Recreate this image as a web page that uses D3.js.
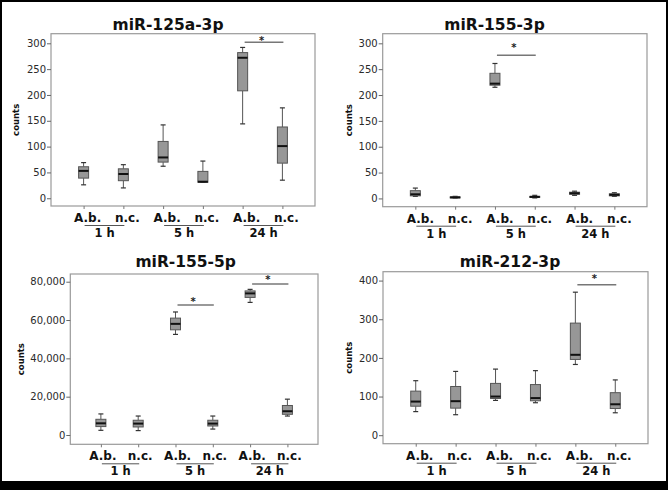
<!DOCTYPE html>
<html><head><meta charset="utf-8">
<script src="https://cdn.jsdelivr.net/npm/d3@7"></script>
<style>html,body{margin:0;padding:0;background:#fff;}svg{display:block;}</style>
</head><body>
<svg id="chart" width="668" height="490"></svg>
<script>
// ---- data ----
const groups = ["1 h", "5 h", "24 h"];
const conditions = ["A.b.", "n.c."];
// five-number summaries [min, q1, median, q3, max] in order 1h A.b., 1h n.c., 5h A.b., 5h n.c., 24h A.b., 24h n.c.
const mir125a3p = [[26,39,53,61,69],[20,34,47,57,65],[62,70,79,110,142],[31,31,32,52,72],[144,208,272,282,292],[35,68,101,138,175]];
const mir1553p  = [[4,5,8,15,20],[1,1.5,2,3,4],[215,219,222,242,261],[1,2,3,4,6],[6,8,10,12,14],[4,5,7,9,11]];
const mir1555p  = [[2450,4400,6100,8200,11000],[2300,4200,5950,7700,9900],[52500,54900,58000,61000,64200],[3100,4700,5950,7700,9900],[69200,71800,73900,75200,76000],[9900,10800,12400,15400,18700]];
const mir2123p  = [[61,75,87,114,141],[53,70,88,126,165],[90,95,100,134,171],[84,89,96,131,167],[183,196,208,290,370],[58,69,80,110,143]];
const ticks300 = [0,50,100,150,200,250,300];
const ticks80k = [0,20000,40000,60000,80000];
const ticks400 = [0,100,200,300,400];
// significance bars: group index, bar height and star height (data units)
const sig125a = [{g:2, y:302, s:310}];
const sig1553 = [{g:1, y:277, s:295}];
const sig1555 = [{g:1, y:67800, s:70800},{g:2, y:78800, s:82300}];
const sig2123 = [{g:2, y:389, s:411}];

// ---- layout ----
const panels = [
  {title:"miR-125a-3p", data:mir125a3p, ticks:ticks300, domain:[-15,318.6], x0:51, x1:315, y0:33.7, y1:206, tx:168, ty:30, cx:19, sig:sig125a, fmt:d3.format("d"), ldx:4},
  {title:"miR-155-3p", data:mir1553p, ticks:ticks300, domain:[-16,318.6], x0:382.7, x1:647, y0:33.7, y1:206.7, tx:494.5, ty:30, cx:351.5, sig:sig1553, fmt:d3.format("d"), ldx:5},
  {title:"miR-155-5p", data:mir1555p, ticks:ticks80k, domain:[-4850,84020], x0:70.3, x1:318, y0:274, y1:444.3, tx:185.7, ty:267, cx:24, sig:sig1555, fmt:d3.format(","), ldx:2},
  {title:"miR-212-3p", data:mir2123p, ticks:ticks400, domain:[-22,423], x0:383, x1:648, y0:271.7, y1:443.7, tx:510, ty:267, cx:351.5, sig:sig2123, fmt:d3.format("d"), ldx:4}
];

const svg = d3.select("#chart");
svg.append("rect").attr("x",0).attr("y",0).attr("width",668).attr("height",490).attr("fill","#fff");

const cats = [];
groups.forEach(g => conditions.forEach(c => cats.push(g + "|" + c)));

panels.forEach(p => {
  const gp = svg.append("g");
  const x = d3.scalePoint().domain(cats).range([p.x0, p.x1]).padding(0.82);
  const y = d3.scaleLinear().domain(p.domain).range([p.y1, p.y0]);

  // frame
  gp.append("rect").attr("x", p.x0).attr("y", p.y0).attr("width", p.x1 - p.x0).attr("height", p.y1 - p.y0)
    .attr("fill", "none").attr("stroke", "#9a9a9a").attr("stroke-width", 1.2);

  // y axis
  const ya = d3.axisLeft(y).tickValues(p.ticks).tickFormat(p.fmt).tickSize(4).tickPadding(1);
  const yg = gp.append("g").attr("transform", `translate(${p.x0},0)`).call(ya);
  yg.select(".domain").remove();
  yg.selectAll(".tick line").attr("stroke", "#666");
  yg.selectAll(".tick text").attr("fill", "#2a2a2a").style("font-family", "DejaVu Sans").style("font-size", "10px");

  // x axis ticks
  const xa = d3.axisBottom(x).tickSize(3).tickFormat("");
  const xg = gp.append("g").attr("transform", `translate(0,${p.y1})`).call(xa);
  xg.select(".domain").remove();
  xg.selectAll(".tick line").attr("stroke", "#777");

  // title
  gp.append("text").attr("x", p.tx).attr("y", p.ty).attr("text-anchor", "middle")
    .style("font-family", "DejaVu Sans").style("font-weight", "bold").style("font-size", "15.5px").attr("fill", "#111")
    .text(p.title);

  // counts label
  const cy = (p.y0 + p.y1) / 2;
  gp.append("text").attr("transform", `translate(${p.cx},${cy}) rotate(-90)`).attr("text-anchor", "middle")
    .style("font-family", "DejaVu Sans").style("font-weight", "bold").style("font-size", "8.5px").attr("fill", "#111").text("counts");

  // condition labels
  cats.forEach(c => {
    gp.append("text").attr("x", x(c) + p.ldx).attr("y", p.y1 + 16).attr("text-anchor", "middle")
      .style("font-family", "DejaVu Sans").style("font-weight", "bold").style("font-size", "12px").attr("fill", "#111")
      .text(c.split("|")[1]);
  });
  // group labels and underline
  groups.forEach(g => {
    const xa1 = x(g + "|" + conditions[0]), xb1 = x(g + "|" + conditions[1]);
    gp.append("line").attr("x1", xa1 + 1).attr("x2", xb1 + 1).attr("y1", p.y1 + 19.5).attr("y2", p.y1 + 19.5)
      .attr("stroke", "#555").attr("stroke-width", 1);
    gp.append("text").attr("x", (xa1 + xb1) / 2 + 1).attr("y", p.y1 + 31).attr("text-anchor", "middle")
      .style("font-family", "DejaVu Sans").style("font-weight", "bold").style("font-size", "11.5px").attr("fill", "#111")
      .text(g);
  });

  // boxes
  const bw = 10, cw = 5;
  p.data.forEach((d, i) => {
    const cxp = x(cats[i]);
    const [mn, q1, md, q3, mx] = d;
    const b = gp.append("g");
    b.append("line").attr("x1", cxp).attr("x2", cxp).attr("y1", y(mx)).attr("y2", y(q3)).attr("stroke", "#555");
    b.append("line").attr("x1", cxp).attr("x2", cxp).attr("y1", y(q1)).attr("y2", y(mn)).attr("stroke", "#555");
    b.append("line").attr("x1", cxp - cw / 2).attr("x2", cxp + cw / 2).attr("y1", y(mx)).attr("y2", y(mx)).attr("stroke", "#333").attr("stroke-width", 1.2);
    b.append("line").attr("x1", cxp - cw / 2).attr("x2", cxp + cw / 2).attr("y1", y(mn)).attr("y2", y(mn)).attr("stroke", "#333").attr("stroke-width", 1.2);
    b.append("rect").attr("x", cxp - bw / 2).attr("y", y(q3)).attr("width", bw).attr("height", Math.max(1, y(q1) - y(q3)))
      .attr("fill", "#979797").attr("stroke", "#555").attr("stroke-width", 1);
    b.append("line").attr("x1", cxp - bw / 2).attr("x2", cxp + bw / 2).attr("y1", y(md)).attr("y2", y(md)).attr("stroke", "#111").attr("stroke-width", 2);
  });

  // significance
  p.sig.forEach(s => {
    const xa1 = x(groups[s.g] + "|" + conditions[0]), xb1 = x(groups[s.g] + "|" + conditions[1]);
    gp.append("line").attr("x1", xa1 + 2).attr("x2", xb1 + 1).attr("y1", y(s.y)).attr("y2", y(s.y)).attr("stroke", "#777").attr("stroke-width", 1.5);
    gp.append("text").attr("x", (xa1 + xb1) / 2 - 1).attr("y", y(s.s) + 5.5).attr("text-anchor", "middle")
      .style("font-family", "DejaVu Sans").style("font-weight", "bold").style("font-size", "10px").attr("fill", "#222").text("*");
  });
});

// outer black border
svg.append("rect").attr("x", 0).attr("y", 0).attr("width", 668).attr("height", 2).attr("fill", "#000");
svg.append("rect").attr("x", 0).attr("y", 0).attr("width", 2).attr("height", 490).attr("fill", "#000");
svg.append("rect").attr("x", 666).attr("y", 0).attr("width", 2).attr("height", 490).attr("fill", "#000");
svg.append("rect").attr("x", 0).attr("y", 481).attr("width", 668).attr("height", 9).attr("fill", "#000");
</script>
</body></html>
